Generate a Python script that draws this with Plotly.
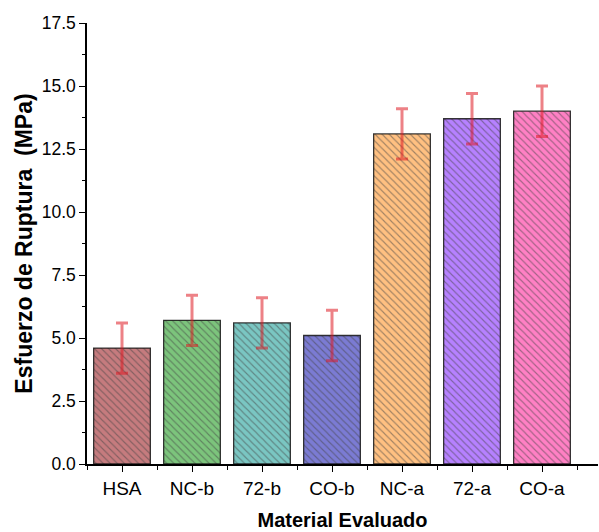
import plotly.graph_objects as go

categories = ["HSA", "NC-b", "72-b", "CO-b", "NC-a", "72-a", "CO-a"]
strength = [4.6, 5.7, 5.6, 5.1, 13.1, 13.7, 14.0]
strength_err = [1.0, 1.0, 1.0, 1.0, 1.0, 1.0, 1.0]
bar_colors = ["#C57B7E", "#7CC47C", "#7AC6C2", "#7B7BD3", "#FFC081", "#B681FF", "#FF80C4"]

positions = list(range(len(categories)))
font_family = "Liberation Sans, Arial, sans-serif"

fig = go.Figure(
    go.Bar(
        x=positions,
        y=strength,
        width=0.81,
        marker=dict(
            color=bar_colors,
            line=dict(color="rgba(20,20,20,0.85)", width=1.3),
            pattern=dict(
                shape="\\",
                fillmode="overlay",
                fgcolor="rgba(30,30,30,0.65)",
                size=5,
                solidity=0.22,
            ),
        ),
        error_y=dict(
            type="data",
            array=strength_err,
            color="rgba(222,25,35,0.55)",
            thickness=3,
            width=6,
        ),
        showlegend=False,
    )
)

fig.update_layout(
    width=599,
    height=532,
    margin=dict(l=87, r=1, t=23, b=68),
    plot_bgcolor="white",
    paper_bgcolor="white",
    font=dict(family=font_family, size=18, color="black"),
    bargap=0.19,
)

fig.update_xaxes(
    range=[-0.5, 6.8],
    tickvals=positions,
    ticktext=categories,
    ticks="outside",
    ticklen=6,
    tickwidth=1.2,
    tickcolor="black",
    minor=dict(
        tickvals=[p - 0.5 for p in positions] + [len(positions) - 0.5],
        ticks="outside",
        ticklen=4,
        tickwidth=1.2,
        tickcolor="black",
    ),
    showline=True,
    linecolor="black",
    linewidth=1.5,
    showgrid=False,
    zeroline=False,
    tickfont=dict(size=19),
    title=dict(
        text="<b>Material Evaluado</b>",
        font=dict(size=20),
        standoff=15,
    ),
)

fig.update_yaxes(
    range=[0, 17.5],
    tick0=0,
    dtick=2.5,
    tickformat=".1f",
    ticks="outside",
    ticklen=6,
    tickwidth=1.2,
    tickcolor="black",
    minor=dict(
        dtick=1.25,
        ticks="outside",
        ticklen=3,
        tickwidth=1.2,
        tickcolor="black",
    ),
    showline=True,
    linecolor="black",
    linewidth=1.5,
    showgrid=False,
    zeroline=False,
    tickfont=dict(size=17.5),
    title=dict(
        text="<b>Esfuerzo de Ruptura  (MPa)</b>",
        font=dict(size=23),
        standoff=3,
    ),
)

fig.write_html("out.html")
